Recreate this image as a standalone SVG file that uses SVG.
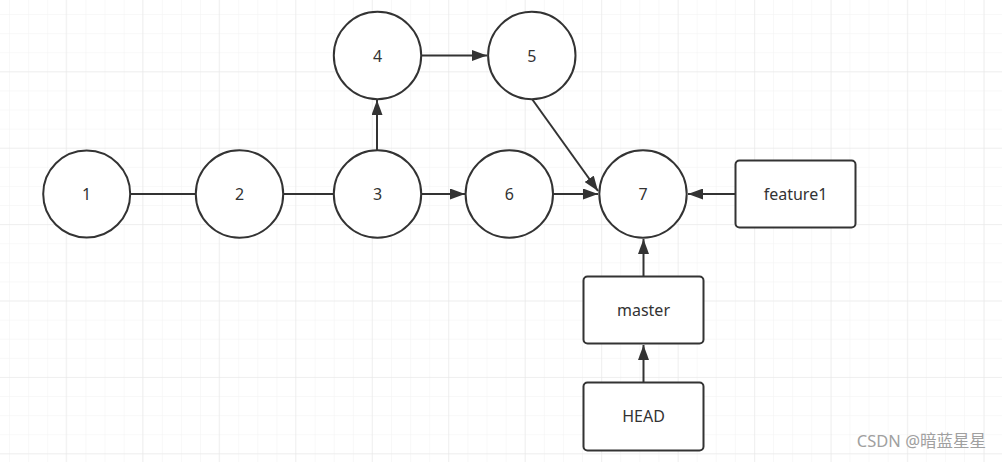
<svg xmlns="http://www.w3.org/2000/svg" width="1002" height="462" viewBox="0 0 1002 462">
<defs>
<pattern id="minor" x="-9.1" y="-4.1" width="19.1" height="19.1" patternUnits="userSpaceOnUse">
<path d="M19.1 0V19.1M0 19.1H19.1" fill="none" stroke="#f2f2f2" stroke-width="1"/>
</pattern>
<pattern id="major" x="-9.8" y="-4.1" width="76.5" height="76.4" patternUnits="userSpaceOnUse">
<path d="M76.5 0V76.4M0 76.4H76.5" fill="none" stroke="#e6e6e6" stroke-width="1"/>
</pattern>
<marker id="arr" viewBox="0 0 15 11" refX="15" refY="5.5" markerWidth="7.5" markerHeight="5.5" orient="auto" markerUnits="strokeWidth">
<path d="M0 0L15 5.5L0 11Z" fill="#333"/>
</marker>
</defs>
<style>
.n circle,.n rect{fill:#fff;stroke:#333;stroke-width:2}
.n text{font-family:"Noto Sans","Liberation Sans",sans-serif;font-size:16px;fill:#333;text-anchor:middle;dominant-baseline:central}
.e path{fill:none;stroke:#333;stroke-width:2}
.wm{font-family:"Noto Sans","Noto Sans CJK SC",sans-serif;font-size:16.5px;fill:#a0a0a0}
</style>
<rect width="1002" height="462" fill="#fff"/>
<rect width="1002" height="462" fill="url(#minor)"/>
<rect width="1002" height="462" fill="url(#major)"/>
<g id="edges" class="e">
<path d="M130 194H196"/>
<path d="M283 194H333"/>
<path d="M377 150V100" marker-end="url(#arr)"/>
<path d="M421 55.5H487" marker-end="url(#arr)"/>
<path d="M421 194H465" marker-end="url(#arr)"/>
<path d="M553 194H598" marker-end="url(#arr)"/>
<path d="M532 99L598 191" marker-end="url(#arr)"/>
<path d="M735 194H688" marker-end="url(#arr)"/>
<path d="M643.5 276V239" marker-end="url(#arr)"/>
<path d="M643.5 382V345" marker-end="url(#arr)"/>
</g>
<g id="n1" class="n"><circle cx="86.7" cy="194" r="43.5"/><text x="86.7" y="194">1</text></g>
<g id="n2" class="n"><circle cx="239.5" cy="194" r="43.7"/><text x="239.5" y="194">2</text></g>
<g id="n3" class="n"><circle cx="377.5" cy="194" r="43.7"/><text x="377.5" y="194">3</text></g>
<g id="n4" class="n"><circle cx="377.5" cy="55.5" r="43.7"/><text x="377.5" y="55.5">4</text></g>
<g id="n5" class="n"><circle cx="531.8" cy="55.5" r="43.7"/><text x="531.8" y="55.5">5</text></g>
<g id="n6" class="n"><circle cx="509.3" cy="194" r="43.7"/><text x="509.3" y="194">6</text></g>
<g id="n7" class="n"><circle cx="643" cy="194" r="43.7"/><text x="643" y="194">7</text></g>
<g id="feature1" class="n"><rect x="735.5" y="160.5" width="120" height="67" rx="4"/><text x="795.5" y="194">feature1</text></g>
<g id="master" class="n"><rect x="583.5" y="276.5" width="120" height="67" rx="4"/><text x="643.5" y="310">master</text></g>
<g id="head" class="n"><rect x="583.5" y="382.5" width="120" height="68" rx="4"/><text x="643.5" y="416">HEAD</text></g>
<text class="wm" x="986" y="447" text-anchor="end">CSDN @暗蓝星星</text>
</svg>
